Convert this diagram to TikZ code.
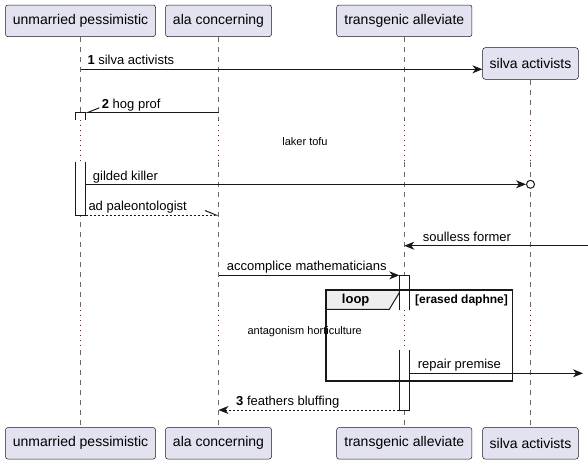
\documentclass[tikz,border=0pt]{standalone}
\usepackage{fontspec}
\setmainfont{Liberation Sans}
\usetikzlibrary{arrows.meta}
\definecolor{CPBG}{HTML}{E2E2F0}
\definecolor{CLN}{HTML}{181818}
\definecolor{CDLY}{HTML}{A80036}
\definecolor{CTAB}{HTML}{EEEEEE}
\tikzset{
  part/.style={draw=CLN,fill=CPBG,line width=0.5pt,rounded corners=2.5pt,
    minimum height=31.6pt,inner sep=0pt,font=\fontsize{14}{16}\selectfont},
  life/.style={draw=CLN!65,line width=0.6pt,dash pattern=on 5pt off 5pt},
  dly/.style={draw=CDLY,line width=1pt,dash pattern=on 1pt off 4pt},
  msg/.style={draw=CLN,line width=1pt},
  rsp/.style={msg,dash pattern=on 2pt off 2pt},
  act/.style={draw=CLN,line width=1pt},
  lbl/.style={anchor=base west,inner sep=0pt,font=\fontsize{13}{15}\selectfont},
  dlbl/.style={inner sep=0pt,font=\fontsize{11}{13}\selectfont},
  tip/.style={-{Stealth[length=10pt,width=8pt,inset=3pt]}},
  halftip/.style={-{Straight Barb[harpoon,#1,length=11pt,width=9pt]}},
}

\begin{document}
\begin{tikzpicture}[x=1pt,y=-1pt]
  \useasboundingbox (0,0) rectangle (588,464);
  % participants
  \node[part,minimum width=150pt] (upT) at (80.5,20.8) {unmarried pessimistic};
  \node[part,minimum width=106pt] (alT) at (218.5,20.8) {ala concerning};
  \node[part,minimum width=135.3pt] (tgT) at (404.3,20.8) {transgenic alleviate};
  \node[part,minimum width=95.6pt] (sT) at (530.5,63.5) {silva activists};
  \node[part,minimum width=150pt] (upB) at (80.5,443.3) {unmarried pessimistic};
  \node[part,minimum width=106pt] (alB) at (218.5,443.3) {ala concerning};
  \node[part,minimum width=135.3pt] (tgB) at (404.3,443.3) {transgenic alleviate};
  \node[part,minimum width=95.6pt] (sB) at (530.5,443.3) {silva activists};
  % levels
  \coordinate (m1) at (0,69.3);
  \coordinate (m2) at (0,112.3);
  \coordinate (d1a) at (0,120);
  \coordinate (d1b) at (0,162);
  \coordinate (m3) at (0,184.3);
  \coordinate (m4) at (0,215);
  \coordinate (m5) at (0,245.7);
  \coordinate (m6) at (0,275.3);
  \coordinate (d2a) at (0,310);
  \coordinate (d2b) at (0,350);
  \coordinate (m7) at (0,373.3);
  \coordinate (m8) at (0,410);
  \coordinate (upAL) at (75.3,0);
  \coordinate (upAR) at (85.7,0);
  \coordinate (tgAL) at (399.3,0);
  \coordinate (tgAR) at (409.3,0);
  \coordinate (rIn) at (588,0);
  \coordinate (rOut) at (583,0);
  % lifelines
  \foreach \p in {up,al,tg,s}{
    \draw[life] (\p T.south) -- (\p T.south |- d1a);
    \draw[dly] (\p T.south |- d1a) -- (\p T.south |- d1b);
    \draw[life] (\p T.south |- d1b) -- (\p T.south |- d2a);
    \draw[dly] (\p T.south |- d2a) -- (\p T.south |- d2b);
    \draw[life] (\p T.south |- d2b) -- (\p B.north);
  }
  % activations
  \fill[white] (upAL |- m2) rectangle (upAR |- d1a);
  \draw[act] (upAL |- d1a) -- (upAL |- m2) -- (upAR |- m2) -- (upAR |- d1a);
  \fill[white] (upAL |- d1b) rectangle (upAR |- m4);
  \draw[act] (upAL |- d1b) -- (upAL |- m4) -- (upAR |- m4) -- (upAR |- d1b);
  \fill[white] (tgAL |- m6) rectangle (tgAR |- d2a);
  \draw[act] (tgAL |- d2a) -- (tgAL |- m6) -- (tgAR |- m6) -- (tgAR |- d2a);
  \fill[white] (tgAL |- d2b) rectangle (tgAR |- m8);
  \draw[act] (tgAL |- d2b) -- (tgAL |- m8) -- (tgAR |- m8) -- (tgAR |- d2b);
  % loop frame
  \filldraw[fill=CTAB,draw=CLN,line width=1pt] (326,290) -- (399.3,290) -- (399.3,292.7)
    -- (389.3,309.3) -- (326,309.3) -- cycle;
  \draw[draw=CLN,line width=1.5pt] (326,290) rectangle (512.7,381);
  \node[font=\fontsize{13}{15}\selectfont\bfseries,inner sep=0pt] (lp) at (355.7,300) {loop};
  \node[anchor=west,inner sep=0pt,font=\fontsize{12}{14}\selectfont\bfseries] (lpc) at (415,300) {[erased daphne]};
  % messages
  \draw[msg,tip] (upT |- m1) -- (sT.west |- m1);
  \node[lbl] (l1) at (87.3,64) {\textbf{1} silva activists};
  \draw[msg,halftip=swap] (alT |- m2) -- (upAR |- m2);
  \node[lbl] (l2) at (101.7,108.5) {\textbf{2} hog prof};
  \node[dlbl] (dt1) at (305,141.7) {laker tofu};
  \node[circle,draw=CLN,line width=1pt,fill=white,minimum size=8pt,inner sep=0pt] (kc) at (sT |- m3) {};
  \draw[msg,tip] (upAR |- m3) -- (kc.west);
  \node[lbl] (l3) at (92.7,180) {gilded killer};
  \draw[rsp,halftip={}] (upAR |- m4) -- (alT |- m4);
  \node[lbl] (l4) at (88.3,210.5) {ad paleontologist};
  \draw[msg,tip] (rIn |- m5) -- (tgT |- m5);
  \node[lbl] (l5) at (422.7,241) {soulless former};
  \draw[msg,tip] (alT |- m6) -- (tgAL |- m6);
  \node[lbl] (l6) at (226.7,270.8) {accomplice mathematicians};
  \node[dlbl] (dt2) at (304.7,331.7) {antagonism horticulture};
  \draw[msg,tip] (tgAR |- m7) -- (rOut |- m7);
  \node[lbl] (l7) at (417.7,368) {repair premise};
  \draw[rsp,tip] (tgAL |- m8) -- (alT |- m8);
  \node[lbl] (l8) at (236,405.7) {\textbf{3} feathers bluffing};
\end{tikzpicture}
\end{document}
